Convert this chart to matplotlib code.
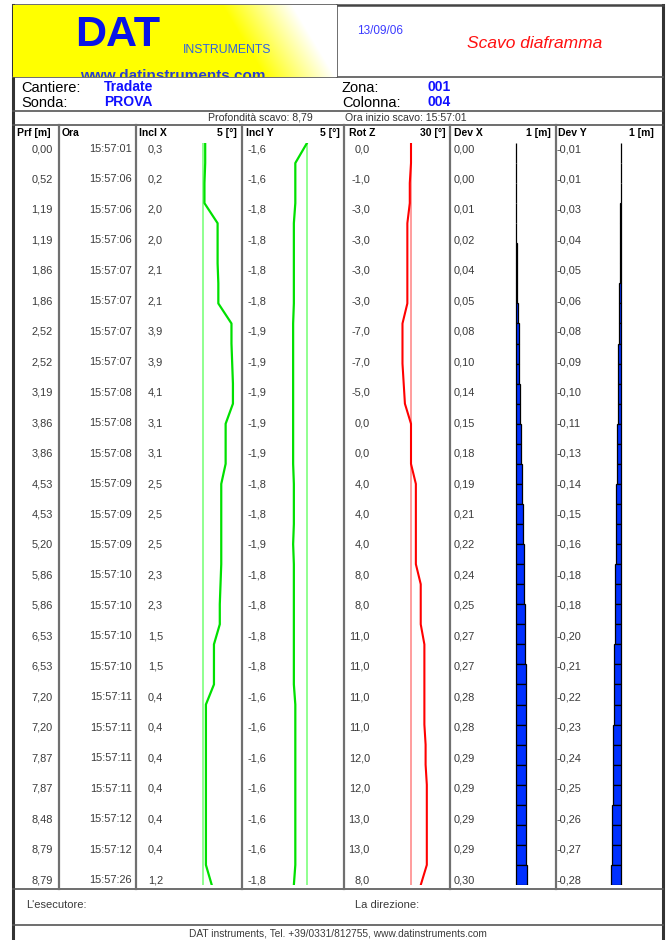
import numpy as np
import matplotlib.pyplot as plt

plt.rcParams['font.family'] = ['Liberation Sans', 'DejaVu Sans']

# table rows
prf = [0.00, 0.52, 1.19, 1.19, 1.86, 1.86, 2.52, 2.52, 3.19, 3.86, 3.86, 4.53, 4.53,
       5.20, 5.86, 5.86, 6.53, 6.53, 7.20, 7.20, 7.87, 7.87, 8.48, 8.79, 8.79]
ora = ['15:57:01', '15:57:06', '15:57:06', '15:57:06', '15:57:07', '15:57:07', '15:57:07',
       '15:57:07', '15:57:08', '15:57:08', '15:57:08', '15:57:09', '15:57:09', '15:57:09',
       '15:57:10', '15:57:10', '15:57:10', '15:57:10', '15:57:11', '15:57:11', '15:57:11',
       '15:57:11', '15:57:12', '15:57:12', '15:57:26']
incl_x = [0.3, 0.2, 2.0, 2.0, 2.1, 2.1, 3.9, 3.9, 4.1, 3.1, 3.1, 2.5, 2.5, 2.5, 2.3, 2.3,
          1.5, 1.5, 0.4, 0.4, 0.4, 0.4, 0.4, 0.4, 1.2]
incl_y = [-1.6, -1.6, -1.8, -1.8, -1.8, -1.8, -1.9, -1.9, -1.9, -1.9, -1.9, -1.8, -1.8,
          -1.9, -1.8, -1.8, -1.8, -1.8, -1.6, -1.6, -1.6, -1.6, -1.6, -1.6, -1.8]
rot_z = [0.0, -1.0, -3.0, -3.0, -3.0, -3.0, -7.0, -7.0, -5.0, 0.0, 0.0, 4.0, 4.0, 4.0,
         8.0, 8.0, 11.0, 11.0, 11.0, 11.0, 12.0, 12.0, 13.0, 13.0, 8.0]
dev_x = [0.00, 0.00, 0.01, 0.02, 0.04, 0.05, 0.08, 0.10, 0.14, 0.15, 0.18, 0.19, 0.21,
         0.22, 0.24, 0.25, 0.27, 0.27, 0.28, 0.28, 0.29, 0.29, 0.29, 0.29, 0.30]
dev_y = [-0.01, -0.01, -0.03, -0.04, -0.05, -0.06, -0.08, -0.09, -0.10, -0.11, -0.13,
         -0.14, -0.15, -0.16, -0.18, -0.18, -0.20, -0.21, -0.22, -0.23, -0.24, -0.25,
         -0.26, -0.27, -0.28]

# profiles as drawn in the graphic columns (38 depth steps)
incl_x_prof = [0.3, 0.3, 0.2, 0.2, 2.0, 2.0, 2.0, 2.1, 2.1, 3.9, 3.9, 4.0, 4.1, 4.1,
               3.1, 3.1, 3.1, 2.5, 2.5, 2.5, 2.5, 2.5, 2.4, 2.3, 2.3, 1.5, 1.5, 1.5,
               0.4, 0.4, 0.4, 0.4, 0.4, 0.4, 0.4, 0.4, 0.4, 1.2]
incl_y_prof = [0.0, -1.6, -1.6, -1.6, -1.8, -1.8, -1.8, -1.8, -1.8, -1.9, -1.9, -1.9,
               -1.9, -1.9, -1.9, -1.9, -1.9, -1.8, -1.8, -1.8, -1.9, -1.8, -1.8, -1.8,
               -1.8, -1.8, -1.8, -1.8, -1.6, -1.6, -1.6, -1.6, -1.6, -1.6, -1.6, -1.6,
               -1.6, -1.8]
rot_z_prof = [0.0, 0.0, -1.0, -1.0, -3.0, -3.0, -3.0, -3.0, -3.0, -7.0, -7.0, -7.0,
              -6.0, -5.0, 0.0, 0.0, 0.0, 4.0, 4.0, 4.0, 4.0, 4.0, 8.0, 8.0, 8.0, 11.0,
              11.0, 11.0, 11.0, 11.0, 12.0, 12.0, 13.0, 13.0, 13.0, 13.0, 13.0, 8.0]
dev_x_prof = [0.00, 0.00, 0.01, 0.01, 0.01, 0.02, 0.03, 0.04, 0.05, 0.07, 0.08, 0.09,
              0.10, 0.12, 0.14, 0.15, 0.16, 0.18, 0.19, 0.20, 0.21, 0.22, 0.23, 0.24,
              0.25, 0.26, 0.27, 0.27, 0.28, 0.28, 0.28, 0.29, 0.29, 0.29, 0.29, 0.29, 0.30]
dev_y_prof = [-0.01, -0.01, -0.01, -0.02, -0.03, -0.03, -0.04, -0.05, -0.06, -0.07,
              -0.08, -0.09, -0.10, -0.10, -0.11, -0.12, -0.13, -0.14, -0.15, -0.15,
              -0.16, -0.17, -0.18, -0.18, -0.19, -0.20, -0.21, -0.21, -0.22, -0.23,
              -0.23, -0.24, -0.25, -0.26, -0.26, -0.27, -0.28]

W, H = 668, 940
fig = plt.figure(figsize=(W / 100, H / 100), dpi=100)

# page layout axes in pixel units
ax = fig.add_axes([0, 0, 1, 1])
ax.set_xlim(0, W)
ax.set_ylim(H, 0)
ax.axis('off')

# header logo box with yellow gradient
hdr = fig.add_axes([13 / W, 1 - 77 / H, (337 - 13) / W, (77 - 5) / H])
xx, yy = np.meshgrid(np.arange(13, 337), np.arange(5, 77))
t = np.clip((xx - 222 - 0.6 * (yy - 5)) / 70, 0, 1)
grad = np.dstack([np.ones_like(t), np.ones_like(t), t])
hdr.imshow(grad, extent=(13, 337, 77, 5), aspect='auto', interpolation='bilinear')
hdr.set_xlim(13, 337)
hdr.set_ylim(77, 5)
hdr.axis('off')
hdr.text(75, 46.5, 'DAT', fontsize=31, fontweight='bold', color='#0a14e6', va='baseline')
for ys in [18, 21.5, 25]:
    hdr.plot([70, 180], [ys, ys], color='yellow', lw=0.9)
hdr.text(183, 53, 'INSTRUMENTS', fontsize=8.8, color='#2f62e0', va='baseline')
www = hdr.text(80, 80, 'www.datinstruments.com', fontsize=11, fontweight='bold',
               color='#2a3fd0', va='baseline')
www.set_clip_box(hdr.bbox)
www.set_clip_on(True)

ax.text(357, 31, '13/09/06', fontsize=8.5, color='#3b3bff', va='center')
ax.text(467, 44, 'Scavo diaframma', fontsize=12.5, style='italic', color='#ff1010', va='center')

# site info
ax.text(21, 88, 'Cantiere:', fontsize=10.5, va='center')
ax.text(21, 103, 'Sonda:', fontsize=10.5, va='center')
ax.text(104, 87, 'Tradate', fontsize=10, fontweight='bold', color='#1010ff', va='center')
ax.text(104, 102, 'PROVA', fontsize=10, fontweight='bold', color='#1010ff', va='center')
ax.text(342, 88, 'Zona:', fontsize=10.5, va='center')
ax.text(342, 103, 'Colonna:', fontsize=10.5, va='center')
ax.text(428, 87, '001', fontsize=10, fontweight='bold', color='#1010ff', va='center')
ax.text(428, 102, '004', fontsize=10, fontweight='bold', color='#1010ff', va='center')

ax.text(313, 118, 'Profondità scavo: 8,79', fontsize=7.6, ha='right', va='center', color='#333333')
ax.text(345, 118, 'Ora inizio scavo: 15:57:01', fontsize=7.6, va='center', color='#333333')

# frame and rules
line_c = '#555555'
ax.plot([13, 13], [5, H], color='#333333', lw=2.2)
ax.plot([663, 663], [5, H], color='#333333', lw=2.2)
ax.plot([13, 663], [5, 5], color='#444444', lw=1.8)
ax.plot([337, 337], [5, 77], color=line_c, lw=1.2)
for yl in [77, 111, 125, 889, 925]:
    ax.plot([13, 663], [yl, yl], color=line_c, lw=1.2)
for xl in [59, 136, 242, 344, 450, 556]:
    ax.plot([xl, xl], [125, 889], color='#707070', lw=1.6)

# column headers
hy = 133
ax.text(17, hy, 'Prf [m]', fontsize=7.5, fontweight='bold', va='center')
ax.text(62, hy, 'Ora', fontsize=7.5, fontweight='bold', va='center')
ax.text(139, hy, 'Incl X', fontsize=7.5, fontweight='bold', va='center')
ax.text(237, hy, '5 [°]', fontsize=7.5, fontweight='bold', va='center', ha='right')
ax.text(246, hy, 'Incl Y', fontsize=7.5, fontweight='bold', va='center')
ax.text(340, hy, '5 [°]', fontsize=7.5, fontweight='bold', va='center', ha='right')
ax.text(349, hy, 'Rot Z', fontsize=7.5, fontweight='bold', va='center')
ax.text(446, hy, '30 [°]', fontsize=7.5, fontweight='bold', va='center', ha='right')
ax.text(454, hy, 'Dev X', fontsize=7.5, fontweight='bold', va='center')
ax.text(551, hy, '1 [m]', fontsize=7.5, fontweight='bold', va='center', ha='right')
ax.text(558, hy, 'Dev Y', fontsize=7.5, fontweight='bold', va='center')
ax.text(654, hy, '1 [m]', fontsize=7.5, fontweight='bold', va='center', ha='right')

# table values
def fmt(v, n):
    return f'{v:.{n}f}'.replace('.', ',')

tc = '#3a3a3a'
fs = 7.9
for i in range(len(prf)):
    y = 149 + 30.46 * i
    ax.text(53, y, fmt(prf[i], 2), fontsize=fs, ha='right', va='center', color=tc)
    ax.text(132, y, ora[i], fontsize=fs, ha='right', va='center', color=tc)
    ax.text(148, y, fmt(incl_x[i], 1), fontsize=fs, va='center', color=tc)
    ax.text(248, y, fmt(incl_y[i], 1), fontsize=fs, va='center', color=tc)
    ax.text(370, y, fmt(rot_z[i], 1), fontsize=fs, ha='right', va='center', color=tc)
    ax.text(454, y, fmt(dev_x[i], 2), fontsize=fs, va='center', color=tc)
    ax.text(557, y, fmt(dev_y[i], 2), fontsize=fs, va='center', color=tc)

# graphic columns
def col_axes(x0, x1, zero_px, full_px, full_val):
    a = fig.add_axes([x0 / W, 1 - 885 / H, (x1 - x0) / W, (885 - 143) / H])
    s = (full_px - zero_px) / full_val
    a.set_xlim((x0 - zero_px) / s, (x1 - zero_px) / s)
    a.set_ylim(37, 0)
    a.axis('off')
    return a

k = np.arange(len(incl_x_prof))
kb = np.arange(len(dev_x_prof)) + 0.5

a1 = col_axes(137, 241, 203, 239.5, 5)
a1.axvline(0, color='#7dff7d', lw=1.2)
a1.plot(incl_x_prof, k, color='#00e000', lw=1.6)

a2 = col_axes(244, 343, 307, 343.5, 5)
a2.axvline(0, color='#7dff7d', lw=1.2)
a2.plot(incl_y_prof, k, color='#00e000', lw=1.6)

a3 = col_axes(346, 449, 411, 447.5, 30)
a3.axvline(0, color='#ff8c8c', lw=1.2)
a3.plot(rot_z_prof, k, color='#ff0000', lw=1.5)

a4 = col_axes(451, 555, 516, 552, 1)
a4.barh(kb, dev_x_prof, height=1, color='#0030ff', edgecolor='black', lw=0.9)

a5 = col_axes(557, 662, 621, 655, 1)
a5.barh(kb, dev_y_prof, height=1, color='#0030ff', edgecolor='black', lw=0.9)

# footer
ax.text(26, 905, "L'esecutore:", fontsize=8, va='center', color=tc)
ax.text(355, 905, 'La direzione:', fontsize=8, va='center', color=tc)
ax.text(338, 933, 'DAT instruments, Tel. +39/0331/812755, www.datinstruments.com',
        fontsize=7.3, ha='center', va='center', color=tc)

fig.savefig('out.png', dpi=100)
